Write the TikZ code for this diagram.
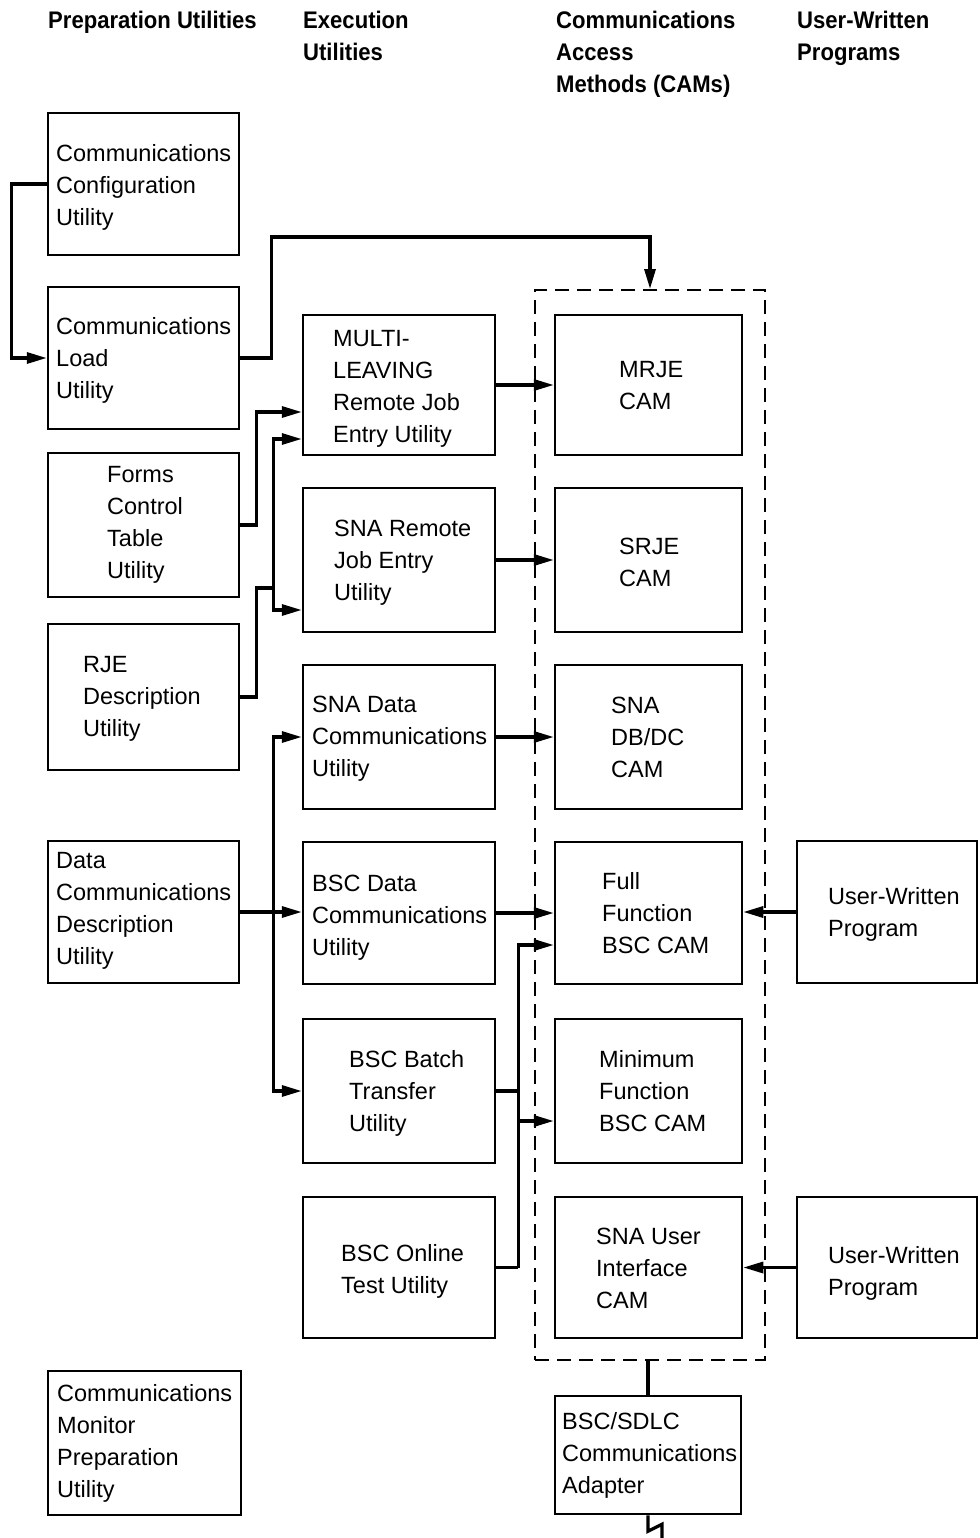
\documentclass[tikz,border=0pt]{standalone}
\usepackage{fontspec}
\setmainfont{Liberation Sans}
\newfontfamily\hdfont[FakeStretch=0.92]{Liberation Sans}
\usetikzlibrary{arrows.meta,calc}
\tikzset{
  box/.style={draw, line width=2.5pt, inner sep=0pt},
  dbox/.style={draw, line width=2pt, dash pattern=on 14pt off 8pt, inner sep=0pt},
  txt/.style={inner sep=0pt, anchor=north west, align=left, font=\fontsize{23.5}{32}\selectfont},
  hdr/.style={inner sep=0pt, anchor=north west, align=left, font=\hdfont\bfseries\fontsize{24}{32}\selectfont},
  conn/.style={line width=3.2pt},
  arr/.style={conn, -{Triangle[length=20pt,width=11pt]}},
}
\newcommand\bx[5]{\node[box, minimum width={(#4-#2)*1pt}, minimum height={(#5-#3)*1pt}] (#1) at ({(#2+#4)/2},{(#3+#5)/2}) {};}
\newcommand\tx[4]{\node[txt] (#1-t) at (#2,{#3-14}) {\strut #4};}
\begin{document}
\begin{tikzpicture}[x=1pt,y=-1pt]
\fill[white] (0,0) rectangle (979,1538);
\useasboundingbox (0,0) rectangle (979,1538);
% headers
\node[hdr] (h1) at (48,6) {\strut Preparation Utilities};
\node[hdr] (h2) at (303,6) {\strut Execution\\Utilities};
\node[hdr] (h3) at (556,6) {\strut Communications\\Access\\Methods (CAMs)};
\node[hdr] (h4) at (797,6) {\strut User-Written\\Programs};
% preparation utilities
\bx{config}{48}{113}{239}{255}
\tx{config}{56}{153}{Communications\\Configuration\\Utility}
\bx{load}{48}{287}{239}{429}
\tx{load}{56}{326}{Communications\\Load\\Utility}
\bx{forms}{48}{453}{239}{597}
\tx{forms}{107}{474}{Forms\\Control\\Table\\Utility}
\bx{rje}{48}{624}{239}{770}
\tx{rje}{83}{664}{RJE\\Description\\Utility}
\bx{dcd}{48}{841}{239}{983}
\tx{dcd}{56}{860}{Data\\Communications\\Description\\Utility}
\bx{mon}{48}{1371}{241}{1515}
\tx{mon}{57}{1393}{Communications\\Monitor\\Preparation\\Utility}
% execution utilities
\bx{multi}{303}{315}{495}{455}
\tx{multi}{333}{338}{MULTI-\\LEAVING\\Remote Job\\Entry Utility}
\bx{snarje}{303}{488}{495}{632}
\tx{snarje}{334}{528}{SNA Remote\\Job Entry\\Utility}
\bx{snadata}{303}{665}{495}{809}
\tx{snadata}{312}{704}{SNA Data\\Communications\\Utility}
\bx{bscdata}{303}{842}{495}{984}
\tx{bscdata}{312}{883}{BSC Data\\Communications\\Utility}
\bx{batch}{303}{1019}{495}{1163}
\tx{batch}{349}{1059}{BSC Batch\\Transfer\\Utility}
\bx{online}{303}{1197}{495}{1338}
\tx{online}{341}{1253}{BSC Online\\Test Utility}
% CAMs
\node[dbox, minimum width=230pt, minimum height=1070pt] (cams) at (650,825) {};
\bx{mrje}{555}{315}{742}{455}
\tx{mrje}{619}{369}{MRJE\\CAM}
\bx{srje}{555}{488}{742}{632}
\tx{srje}{619}{546}{SRJE\\CAM}
\bx{dbdc}{555}{665}{742}{809}
\tx{dbdc}{611}{705}{SNA\\DB/DC\\CAM}
\bx{full}{555}{842}{742}{984}
\tx{full}{602}{881}{Full\\Function\\BSC CAM}
\bx{minf}{555}{1019}{742}{1163}
\tx{minf}{599}{1059}{Minimum\\Function\\BSC CAM}
\bx{snau}{555}{1197}{742}{1338}
\tx{snau}{596}{1236}{SNA User\\Interface\\CAM}
\bx{adapter}{555}{1396}{741}{1514}
\tx{adapter}{562}{1421}{BSC/SDLC\\Communications\\Adapter}
% user-written programs
\bx{user1}{797}{841}{977}{983}
\tx{user1}{828}{896}{User-Written\\Program}
\bx{user2}{797}{1197}{977}{1338}
\tx{user2}{828}{1255}{User-Written\\Program}
% connectors
\draw[arr] (config.west) -- ++(-35,0) |- (load.west);
\draw[arr] (load.east) -- ++(31,0) |- ($(cams.north)+(0,-52)$) -- (cams.north);
\draw[arr] (forms.east) -- ++(16,0) |- ($(multi.west)+(0,27)$);
\draw[conn] (rje.east) -- ++(16,0) |- ++(17,-109) coordinate (jr);
\draw[arr] (jr) |- ($(multi.west)+(0,54)$);
\draw[arr] (jr) |- ($(snarje.west)+(0,50)$);
\draw[arr] (dcd.east) -- (dcd.east -| bscdata.west);
\coordinate (jd) at ($(dcd.east)+(33,0)$);
\draw[arr] (jd) |- (snadata.west);
\draw[arr] (jd) |- (batch.west);
\draw[arr] (multi.east) -- (mrje.west);
\draw[arr] (snarje.east) -- (srje.west);
\draw[arr] (snadata.east) -- (dbdc.west);
\draw[arr] (bscdata.east) -- (full.west);
\draw[conn] (batch.east) -- ++(22,0) coordinate (jb);
\draw[conn] (online.east) -- ++(22,0) coordinate (jo);
\draw[arr] (jo) |- ($(full.west)+(0,32)$);
\draw[arr] (jb) |- ($(minf.west)+(0,30)$);
\draw[arr] (user1.west) -- (user1.west -| full.east);
\draw[arr] (user2.west) -- (user2.west -| snau.east);
\draw[conn] (adapter.north |- cams.south) -- (adapter.north);
\draw[conn] (adapter.south) -- ++(0,16) -- ++(14,-7) -- ++(0,16);
\end{tikzpicture}
\end{document}
